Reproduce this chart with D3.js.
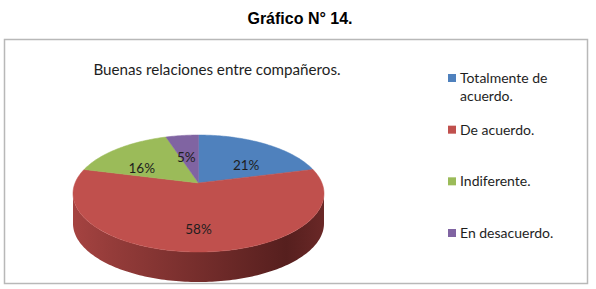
<!DOCTYPE html>
<meta charset="utf-8">
<style>
body { margin: 0; background: #fff; }
svg { display: block; }
.title { font: bold 16px "Liberation Sans", Arial, sans-serif; fill: #000; }
.chart-title, .legend text, .label { font-family: Lato, "Open Sans", sans-serif; fill: #1e1e1e; }
.chart-title { font-size: 15.2px; }
.legend text { font-size: 14px; }
.label { font-size: 13.5px; }
</style>
<body>
<script src="https://cdn.jsdelivr.net/npm/d3@7"></script>
<script>

var categories = ["Totalmente de acuerdo.", "De acuerdo.", "Indiferente.", "En desacuerdo."];
var values = [21, 58, 16, 5];
var colors = ["#4f81bd", "#c0504d", "#9bbb59", "#8064a2"];
var sideDark = ["#2c4a6e", "#561f1e", "#5b7033", "#4a3a60"];
var sideLight = ["#40699a", "#a54341", "#85a04b", "#6d5489"];

var width = 596, height = 289;
var cx = 198.5, cy = 193.5, rx = 125.5, ry = 58.5, depth = 30;
var persp = -0.18; // fake perspective so slices meet above the ellipse centre
var k = Math.sqrt(1 - persp * persp);

var svg = d3.select("body").append("svg")
    .attr("width", width)
    .attr("height", height);

svg.append("text")
    .attr("class", "title")
    .attr("x", 300)
    .attr("y", 24)
    .attr("text-anchor", "middle")
    .text("Gráfico N° 14.");

svg.append("rect")
    .attr("x", 4.5).attr("y", 39.5)
    .attr("width", 583).attr("height", 244)
    .attr("fill", "#fff")
    .attr("stroke", "#b8b8b8")
    .attr("stroke-width", 1.5);

svg.append("text")
    .attr("class", "chart-title")
    .attr("x", 217)
    .attr("y", 75)
    .attr("text-anchor", "middle")
    .text("Buenas relaciones entre compañeros.");

// angle 0 = back (12 o'clock), clockwise
function proj(a, r, dy) {
  var x = r * Math.sin(a), z = -r * Math.cos(a);
  var w = 1 + persp * z;
  return [cx + rx * k * x / w, cy + ry * (z + persp) / w + (dy || 0)];
}

var pie = d3.pie().sort(null).value(function(d) { return d; });
var arcs = pie(values);

var defs = svg.append("defs");
arcs.forEach(function(d, i) {
  var g = defs.append("linearGradient")
      .attr("id", "side" + i)
      .attr("gradientUnits", "userSpaceOnUse")
      .attr("x1", cx - rx).attr("x2", cx + rx)
      .attr("y1", 0).attr("y2", 0);
  g.append("stop").attr("offset", "0").attr("stop-color", sideLight[i]);
  g.append("stop").attr("offset", "0.15").attr("stop-color", d3.interpolateRgb(sideLight[i], sideDark[i])(0.2));
  g.append("stop").attr("offset", "0.85").attr("stop-color", sideDark[i]);
  g.append("stop").attr("offset", "1").attr("stop-color", d3.interpolateRgb(sideDark[i], sideLight[i])(0.25));
});

// silhouette angles where the rim turns away
var aL = 2 * Math.PI - Math.acos(persp), aR = Math.acos(persp);

function linePts(a0, a1, dy) {
  var n = Math.max(2, Math.ceil(Math.abs(a1 - a0) / 0.02)), pts = [];
  for (var j = 0; j <= n; j++) pts.push(proj(a0 + (a1 - a0) * j / n, 1, dy));
  return pts;
}

var line = d3.line();

// sides (front half only)
var sides = svg.append("g");
arcs.forEach(function(d, i) {
  var s = Math.max(d.startAngle, aR), e = Math.min(d.endAngle, aL);
  if (e <= s) return;
  var top = linePts(s, e, 0), bot = linePts(e, s, depth);
  sides.append("path")
      .attr("d", line(top.concat(bot)) + "Z")
      .attr("fill", "url(#side" + i + ")");
});

// top faces
var tops = svg.append("g");
arcs.forEach(function(d, i) {
  var pts = [proj(0, 0)].concat(linePts(d.startAngle, d.endAngle, 0));
  tops.append("path")
      .attr("d", line(pts) + "Z")
      .attr("fill", colors[i])
      .attr("stroke", colors[i])
      .attr("stroke-width", 0.5);
});

// data labels
var total = d3.sum(values);
var lr = 0.62;
svg.append("g").selectAll("text")
    .data(arcs)
  .enter().append("text")
    .attr("class", "label")
    .attr("text-anchor", "middle")
    .attr("dy", "0.35em")
    .attr("x", function(d) {
      var a = (d.startAngle + d.endAngle) / 2;
      return cx + rx * lr * Math.sin(a);
    })
    .attr("y", function(d) {
      var a = (d.startAngle + d.endAngle) / 2;
      return cy - ry * lr * Math.cos(a);
    })
    .text(function(d) { return Math.round(d.value / total * 100) + "%"; });

// legend
var legendY = d3.scalePoint().domain(categories).range([78, 233]);
var legend = svg.append("g").attr("class", "legend");
categories.forEach(function(c, i) {
  var y = legendY(c);
  legend.append("rect")
      .attr("x", 448).attr("y", y - 4)
      .attr("width", 8).attr("height", 8)
      .attr("fill", colors[i]);
  var t = legend.append("text")
      .attr("x", 460).attr("y", y)
      .attr("dy", "0.35em");
  if (i === 0) {
    t.append("tspan").text("Totalmente de");
    t.append("tspan").attr("x", 460).attr("dy", 18).text("acuerdo.");
  } else {
    t.text(c);
  }
});
</script>
</body>
